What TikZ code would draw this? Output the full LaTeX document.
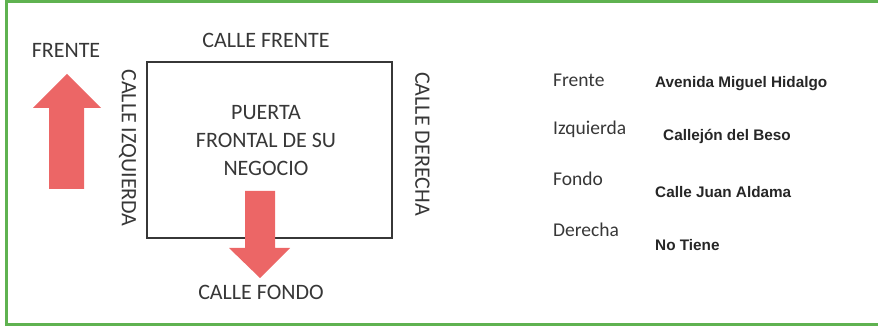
\documentclass[tikz,border=0pt]{standalone}
\usepackage{fontspec}
\setmainfont{Carlito}
\newfontfamily\arialfont{Liberation Sans}
\definecolor{framegreen}{RGB}{95,178,80}
\definecolor{arrowred}{RGB}{236,102,102}
\definecolor{txt}{RGB}{55,55,55}
\begin{document}
\begin{tikzpicture}[x=1pt,y=-1pt,
  bigtxt/.style={text=txt,inner sep=0pt,font=\fontsize{22}{27}\selectfont},
  lbl/.style={text=txt,inner sep=0pt,anchor=base west,font=\fontsize{19.5}{23}\selectfont},
  val/.style={text=black!85,inner sep=0pt,anchor=base west,font=\arialfont\bfseries\fontsize{15.3}{18}\selectfont},
  redarrow/.style={fill=arrowred,draw=none}]
\useasboundingbox (0,0) rectangle (878,328);
% frame
\draw[framegreen,line width=3pt] (878,1.5) -- (6.5,1.5) -- (6.5,324.5) -- (878,324.5);
% building
\draw[txt,line width=1.4pt] (147,62) rectangle (392,238);
\node[bigtxt,anchor=base] (frente) at (66,58) {FRENTE};
\node[bigtxt,anchor=base] (cfrente) at (266,48) {CALLE FRENTE};
\node[bigtxt,anchor=base] (cfondo) at (261,300) {CALLE FONDO};
\node[bigtxt,rotate=-90] (cizq) at (127.5,148) {CALLE IZQUIERDA};
\node[bigtxt,rotate=-90] (cder) at (422.5,144) {CALLE DERECHA};
\node[bigtxt,anchor=base] (l1) at (266,120) {PUERTA};
\node[bigtxt,anchor=base] (l2) at (266,147.5) {FRONTAL DE SU};
\node[bigtxt,anchor=base] (l3) at (266,175.5) {NEGOCIO};
% arrows
\fill[redarrow] (67,74) -- (101,108) -- (84,108) -- (84,189) -- (49,189) -- (49,108) -- (33,108) -- cycle;
\fill[redarrow] (245,191) -- (275,191) -- (275,248) -- (290,248) -- (260,278) -- (229,248) -- (245,248) -- cycle;
% list
\node[lbl] (f) at (553,87) {Frente};
\node[lbl] (i) at (553,134.5) {Izquierda};
\node[lbl] (fo) at (553,186) {Fondo};
\node[lbl] (d) at (553,237) {Derecha};
\node[val] (vf) at (655,87.5) {Avenida Miguel Hidalgo};
\node[val] (vi) at (663,140.5) {Callejón del Beso};
\node[val] (vfo) at (655,197.5) {Calle Juan Aldama};
\node[val] (vd) at (655,251) {No Tiene};
\end{tikzpicture}
\end{document}
